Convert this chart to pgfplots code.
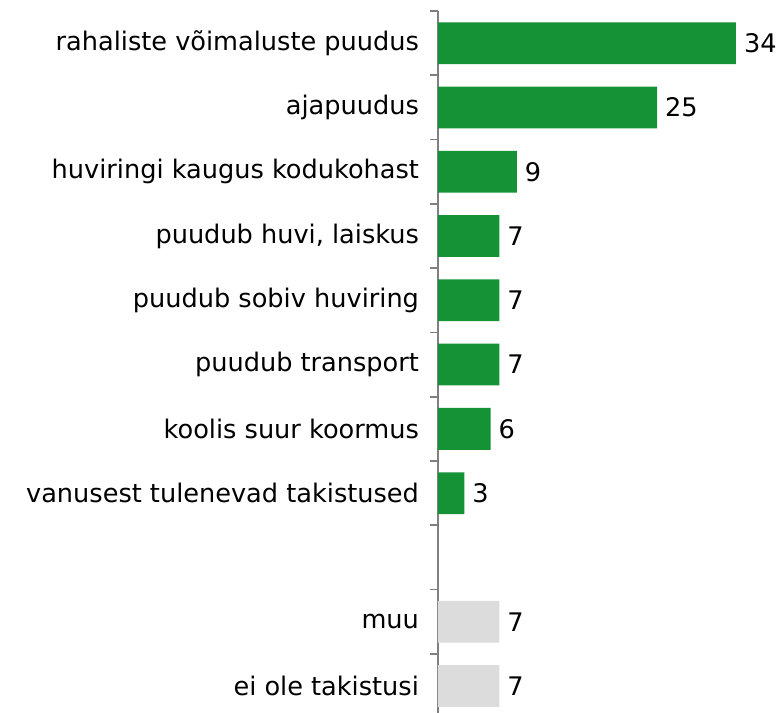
\documentclass[border=0pt]{standalone}
\usepackage{fontspec}
\setmainfont{DejaVu Sans}
\usepackage{pgfplots}
\pgfplotsset{compat=1.18}
\definecolor{barg}{RGB}{21,146,54}
\definecolor{barx}{RGB}{220,220,220}
\definecolor{axg}{RGB}{128,128,128}

\begin{document}
\begin{tikzpicture}
\begin{axis}[
    at={(219pt,0pt)}, anchor=south west,
    scale only axis,
    width=149pt, height=351pt,
    xbar, bar shift=0pt, bar width=0.65,
    xmin=0, xmax=34,
    ymin=-0.5, ymax=10.42,
    y dir=reverse,
    clip=false,
    axis x line=none,
    axis y line=left,
    axis line style={-, draw=axg, line width=0.8pt},
    ytick={0,...,10},
    yticklabels={rahaliste võimaluste puudus, ajapuudus, huviringi kaugus kodukohast,
        {puudub huvi, laiskus}, puudub sobiv huviring\ , puudub transport,
        koolis suur koormus, vanusest tulenevad takistused, {}, muu, ei ole takistusi},
    major tick length=0pt,
    minor ytick={-0.5,0.5,...,9.5},
    minor tick length=4pt,
    tick align=outside,
    minor tick style={draw=axg, line width=0.8pt},
    yticklabel style={font=\fontsize{12.8}{15}\selectfont, xshift=-6pt},
    nodes near coords,
    nodes near coords style={font=\fontsize{12.8}{15}\selectfont, anchor=west, text=black, xshift=0.5pt},
    /pgf/number format/assume math mode=true,
]
\addplot[fill=barg, draw=none] coordinates {
    (34,0) (25,1) (9,2) (7,3) (7,4) (7,5) (6,6) (3,7)
};
\addplot[fill=barx, draw=none] coordinates {
    (7,9) (7,10)
};
\end{axis}
\pgfresetboundingbox
\path[use as bounding box] (0,0) rectangle (389pt,356.5pt);
\end{tikzpicture}
\end{document}
